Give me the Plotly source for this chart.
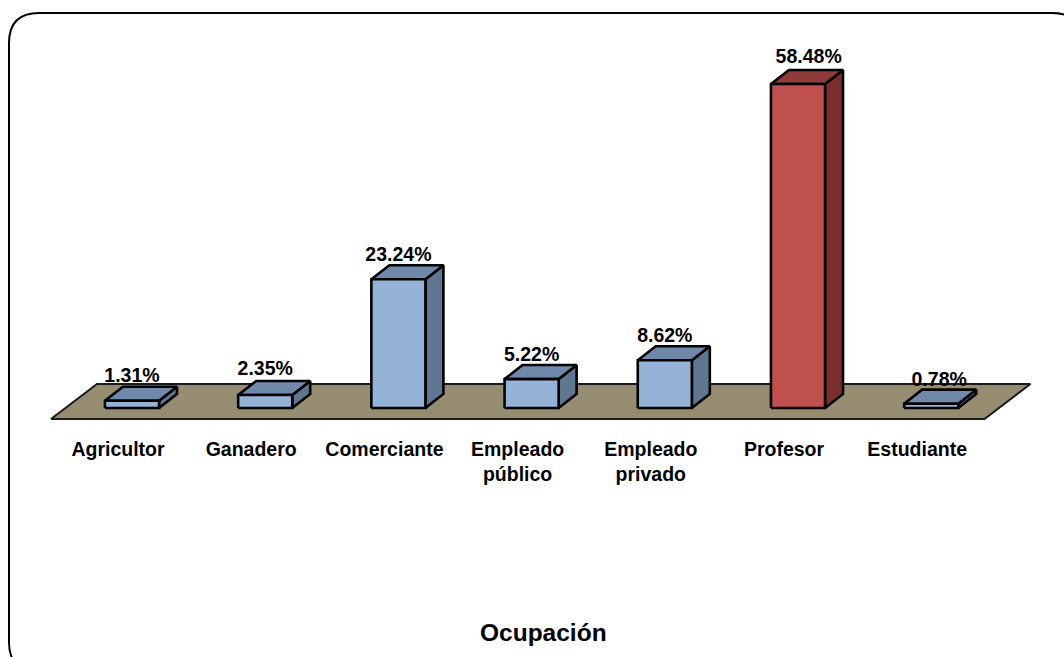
import plotly.graph_objects as go

categories = ["Agricultor", "Ganadero", "Comerciante", "Empleado<br>público", "Empleado<br>privado", "Profesor", "Estudiante"]
values = [1.31, 2.35, 23.24, 5.22, 8.62, 58.48, 0.78]
labels = ["1.31%", "2.35%", "23.24%", "5.22%", "8.62%", "58.48%", "0.78%"]
label_shift = [0, 0, 0, 0, 0, 0.08, 0.06]
label_lift = [1.7, 1.9, 1.6, 1.7, 1.7, 2.2, 1.6]

W, H = 1064, 657
PLOT_BOTTOM = 430
XMIN, XMAX = -0.991, 6.997
YMIN, YMAX = -3.97, 73.65
HALF = 0.203
DX, DY = 0.135, 2.53
FLOOR_DX, FLOOR_DY = 0.345, 6.32
FLOOR_L, FLOOR_R, FLOOR_B = -0.608, 6.40, -1.99
TICK_SHIFT = -0.105
FONT = "Liberation Sans, Arial, sans-serif"
BLUE = ("#95B3D7", "#7089AB", "#5F7690")
RED = ("#C0504D", "#8F3B39", "#782E2C")
FLOOR = "#968D71"
STROKE = dict(color="black", width=2.6)

fig = go.Figure()


def face(xs, ys, color, line=STROKE):
    fig.add_trace(go.Scatter(x=xs + xs[:1], y=ys + ys[:1], mode="lines", fill="toself",
                             fillcolor=color, line=line, hoverinfo="skip", showlegend=False))


face([FLOOR_L, FLOOR_R, FLOOR_R + FLOOR_DX, FLOOR_L + FLOOR_DX],
     [FLOOR_B, FLOOR_B, FLOOR_B + FLOOR_DY, FLOOR_B + FLOOR_DY], FLOOR,
     dict(color="#1a1a1a", width=2))

for i, v in enumerate(values):
    front, top, side = RED if i == values.index(max(values)) else BLUE
    l, r = i - HALF, i + HALF
    face([r, r + DX, r + DX, r], [0, DY, v + DY, v], side)
    face([l, r, r + DX, l + DX], [v, v, v + DY, v + DY], top)
    face([l, r, r, l], [0, 0, v, v], front)

fig.add_trace(go.Scatter(
    x=[i + s for i, s in enumerate(label_shift)],
    y=[v + DY + d for v, d in zip(values, label_lift)],
    mode="text", text=labels, textposition="middle center", cliponaxis=False,
    textfont=dict(family=FONT, size=19.5, color="black"), hoverinfo="skip", showlegend=False,
    texttemplate="<b>%{text}</b>"))


def px(x):
    return x / W


def py(y):
    return (PLOT_BOTTOM - y) / PLOT_BOTTOM


R = 30
x0, y0, x1, y1 = 9, 13, 1082, 672
frame = (f"M {px(x1)} {py(y0 + R)} Q {px(x1)} {py(y0)} {px(x1 - R)} {py(y0)} "
         f"L {px(x0 + R)} {py(y0)} Q {px(x0)} {py(y0)} {px(x0)} {py(y0 + R)} "
         f"L {px(x0)} {py(y1 - R)} Q {px(x0)} {py(y1)} {px(x0 + R)} {py(y1)}")

fig.update_layout(
    width=W, height=H, margin=dict(l=0, r=0, t=0, b=H - PLOT_BOTTOM),
    paper_bgcolor="white", plot_bgcolor="white", showlegend=False,
    xaxis=dict(range=[XMIN, XMAX], tickmode="array",
               tickvals=[i + TICK_SHIFT for i in range(len(categories))],
               ticktext=[f"<b>{c}</b>" for c in categories], showgrid=False, zeroline=False,
               showline=False, ticks="", tickangle=0, ticklabelstandoff=5,
               tickfont=dict(family=FONT, size=19.5, color="black")),
    yaxis=dict(range=[YMIN, YMAX], visible=False),
    shapes=[dict(type="path", xref="paper", yref="paper", path=frame,
                 line=dict(color="black", width=2))],
    annotations=[dict(text="<b>Ocupación</b>", xref="paper", yref="paper",
                      x=px(543.5), y=py(633), xanchor="center", yanchor="middle",
                      showarrow=False, font=dict(family=FONT, size=24.5, color="black"))],
)

fig.write_html("out.html", config={"displayModeBar": False},
               post_script="document.body.style.margin='0';document.body.style.overflow='hidden';")
